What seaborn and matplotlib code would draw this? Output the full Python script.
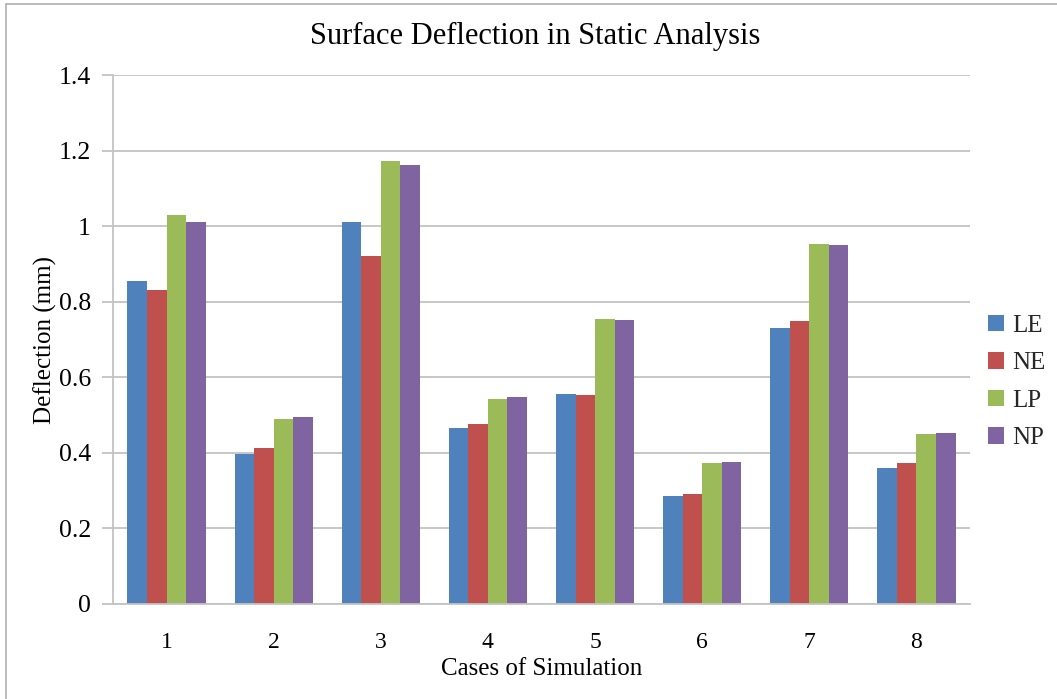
import matplotlib
matplotlib.use("Agg")
import matplotlib.pyplot as plt
import seaborn as sns
import pandas as pd

cases = ["1", "2", "3", "4", "5", "6", "7", "8"]
series = ["LE", "NE", "LP", "NP"]
le = [0.855, 0.398, 1.011, 0.466, 0.556, 0.285, 0.730, 0.360]
ne = [0.830, 0.413, 0.920, 0.477, 0.553, 0.292, 0.750, 0.373]
lp = [1.029, 0.490, 1.172, 0.542, 0.753, 0.373, 0.953, 0.449]
np_ = [1.011, 0.495, 1.162, 0.548, 0.751, 0.376, 0.951, 0.452]
y_ticks = [0, 0.2, 0.4, 0.6, 0.8, 1.0, 1.2, 1.4]
y_tick_labels = ["0", "0.2", "0.4", "0.6", "0.8", "1", "1.2", "1.4"]
colors = ["#4F81BD", "#C0504D", "#9BBB59", "#8064A2"]

rows = []
for name, vals in zip(series, [le, ne, lp, np_]):
    for c, v in zip(cases, vals):
        rows.append({"case": c, "series": name, "value": v})
df = pd.DataFrame(rows)

sns.set_theme(style="white")
plt.rcParams["font.family"] = ["Liberation Serif", "DejaVu Serif"]

fig = plt.figure(figsize=(10.57, 6.99), dpi=100)
ax = fig.add_axes([113 / 1057, 1 - 604 / 699, (970 - 113) / 1057, (604 - 75) / 699])

sns.barplot(data=df, x="case", y="value", hue="series", order=cases,
            hue_order=series, palette=colors, width=0.73, saturation=1,
            edgecolor="none", linewidth=0, ax=ax, legend=True)

grid_c = "#C3C3C3"
ax.set_ylim(0, 1.4)
ax.set_xlim(-0.5, len(cases) - 0.5)
ax.set_yticks(y_ticks)
ax.set_yticklabels(y_tick_labels)
ax.yaxis.grid(True, color=grid_c, linewidth=1.3)
ax.set_axisbelow(True)
for s in ["top", "right"]:
    ax.spines[s].set_visible(False)
ax.spines["left"].set_color(grid_c)
ax.spines["left"].set_linewidth(1.3)
ax.spines["bottom"].set_color(grid_c)
ax.spines["bottom"].set_linewidth(1.3)
ax.tick_params(axis="y", which="major", left=True, length=8, width=1.3,
               color=grid_c, labelsize=18.5, pad=8, labelcolor="black")
ax.tick_params(axis="x", which="major", bottom=False, labelsize=17, pad=14,
               labelcolor="black")

ax.set_xlabel("Cases of Simulation", fontsize=18, labelpad=4, color="black")
ax.set_ylabel("Deflection (mm)", fontsize=18, labelpad=1, color="black")
fig.text(535 / 1057, 1 - 36 / 699, "Surface Deflection in Static Analysis",
         ha="center", va="center", fontsize=22, color="black")

handles, labels = ax.get_legend_handles_labels()
ax.legend(handles, labels, loc="center left", bbox_to_anchor=(978 / 1057, 1 - 382 / 699),
          bbox_transform=fig.transFigure, frameon=False, fontsize=18,
          handlelength=0.65, handleheight=0.65, handletextpad=0.3,
          labelspacing=0.62, borderaxespad=0)

# light frame around the chart area
fig.add_artist(plt.Line2D([6 / 1057, 6 / 1057], [0, 1 - 4 / 699],
                          transform=fig.transFigure, color="#B0B0B0", linewidth=1.2))
fig.add_artist(plt.Line2D([6 / 1057, 1], [1 - 4 / 699, 1 - 4 / 699],
                          transform=fig.transFigure, color="#B0B0B0", linewidth=1.2))

fig.savefig("out.png", dpi=100)
